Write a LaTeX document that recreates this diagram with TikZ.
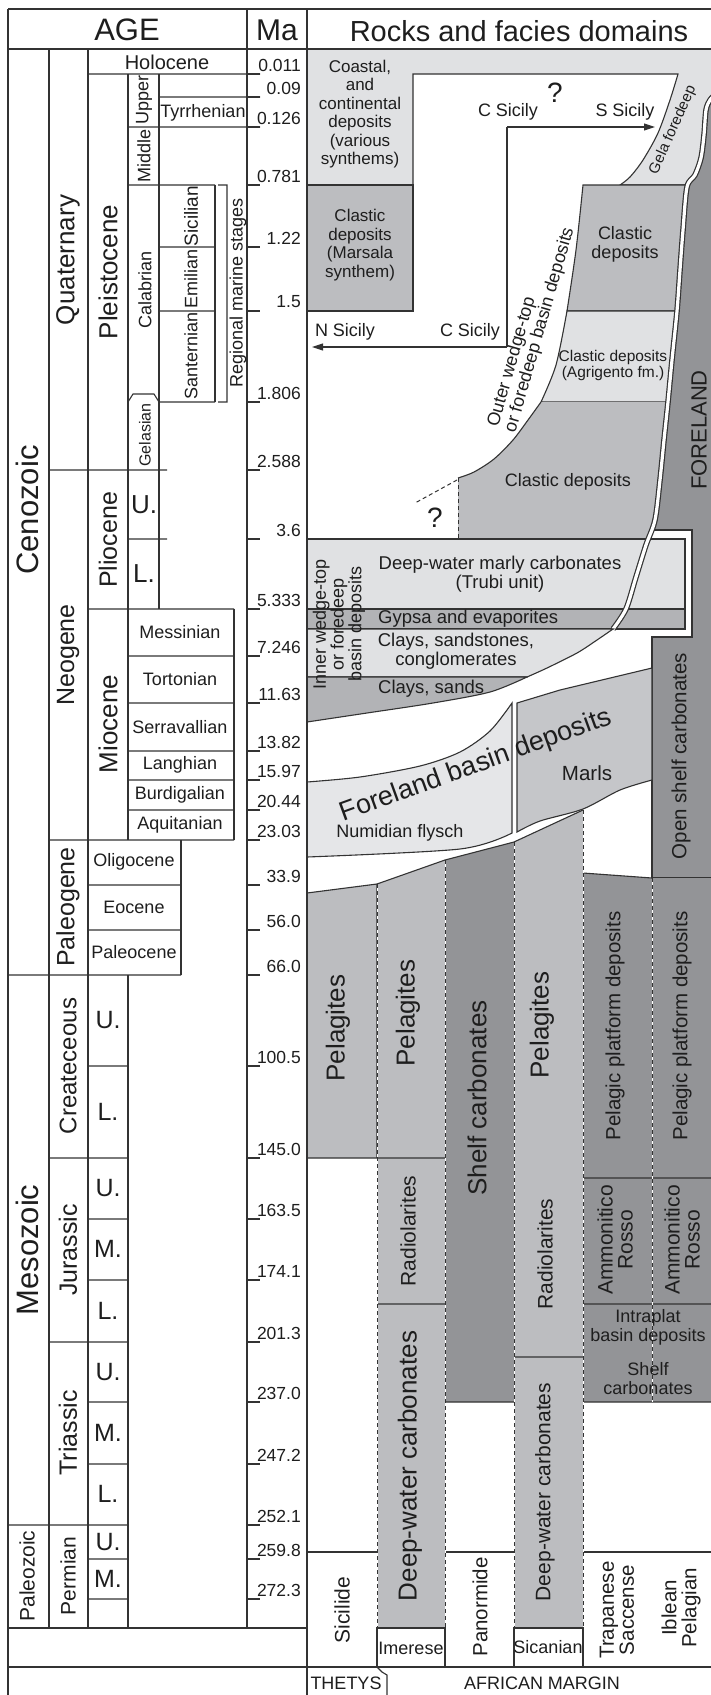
\documentclass[tikz,border=0pt]{standalone}
\usepackage{fontspec}
\setmainfont{Liberation Sans}
\usetikzlibrary{arrows.meta}
\definecolor{lg}{HTML}{E0E1E3}
\definecolor{lg2}{HTML}{E5E6E8}
\definecolor{mg}{HTML}{BCBDC0}
\definecolor{mg2}{HTML}{B2B3B6}
\definecolor{mg3}{HTML}{C5C6C9}
\definecolor{dg}{HTML}{939497}
\definecolor{lc}{HTML}{333333}
\definecolor{tc}{HTML}{1E1E1E}
\newcommand\fz[2]{\fontsize{#1}{#2}\selectfont}
\begin{document}
\begin{tikzpicture}[x=1pt,y=-1pt,
  ln/.style={draw=lc,line width=1.1pt},
  tx/.style={inner sep=0pt,text=tc,align=center},
  dsh/.style={draw=lc,line width=1pt,dash pattern=on 4pt off 3pt},
  wdsh/.style={draw=white,line width=1pt},
  arr/.style={draw=lc,line width=1.1pt,-{Triangle[length=11pt,width=7pt]}},
  rot/.style={rotate=90}]
\useasboundingbox (0,0) rectangle (711,1695);
\fill[white] (0,0) rectangle (711,1695);

% ---------- FORELAND ----------
\fill[dg] (716,80) -- (704,95) -- (699,110) -- (697,135) -- (694,158) -- (688,175) -- (680,187) -- (676,230) -- (673,270) -- (670,311) -- (665,360) -- (661,402) -- (657,440) -- (653,480) -- (650,520) -- (650,530) -- (692,530) -- (692,637) -- (652,637) -- (652,878) -- (716,878) -- cycle;
\draw[ln] (650,530) -- (692,530) -- (692,637) -- (652,637) -- (652,878) -- (716,878);

% ---------- top band + Gela foredeep ----------
\filldraw[ln,fill=lg] (307,49) -- (716,49) -- (716,94) -- (710,100) -- (706,110) -- (704,135) -- (701,158) -- (695,175) -- (686,185) -- (620,185) -- plot[smooth] coordinates {(620,185) (630,177) (643,160) (658,133) (670,100) (678,74)} -- (413,74) -- (413,185) -- (307,185) -- cycle;
\filldraw[ln,fill=mg] (307,185) rectangle (413,311);

% clastic stack
\filldraw[ln,fill=mg] (686,185) -- (683,230) -- (680,270) -- (677,311) -- (567,311) -- plot[smooth] coordinates {(567,311) (576,250) (583,185)} -- cycle;
\filldraw[ln,fill=lg] (677,311) -- (672,360) -- (668,402) -- (541,402) -- plot[smooth] coordinates {(541,402) (556,365) (567,311)} -- cycle;
\fill[mg] (668,402) -- (664,440) -- (660,480) -- (655,520) -- (648,539) -- (458,539) -- (458,478) -- plot[smooth] coordinates {(458,478) (474,472) (494,459) (513,440) (528,420) (541,402)} -- cycle;
\draw[ln] plot[smooth] coordinates {(458,478) (474,472) (494,459) (513,440) (528,420) (541,402)};
\draw[dsh] (458,478) -- (458,539);
\draw[dsh] (457,480) -- (415,503);

% Trubi, Gypsa
\filldraw[ln,fill=lg] (307,539) rectangle (685,609);
\filldraw[ln,fill=mg2] (307,609) rectangle (685,629);

% separator
\draw[lc,line width=5.6pt] plot[smooth] coordinates {(716,94) (710,100) (706,110) (704,135) (701,158) (695,175) (687,187) (683,230) (680,270) (677,311) (672,360) (668,402) (664,440) (660,480) (655,520) (646,545) (636,577) (626,609) (613,629)};
\draw[white,line width=3.2pt] plot[smooth] coordinates {(716,94) (710,100) (706,110) (704,135) (701,158) (695,175) (687,187) (683,230) (680,270) (677,311) (672,360) (668,402) (664,440) (660,480) (655,520) (646,545) (636,577) (626,609) (613,629)};

% inner wedge-top clays
\filldraw[ln,fill=lg] (307,629) -- (613,629) -- plot[smooth] coordinates {(613,629) (597,640) (577,653) (547,668) (527,677)} -- (307,677) -- cycle;
\filldraw[ln,fill=mg2] (307,677) -- (527,677) -- plot[smooth] coordinates {(527,677) (490,692) (433,703) (367,713) (307,722)} -- cycle;

% foreland basin deposits
\filldraw[ln,fill=lg2] plot[smooth] coordinates {(307,782) (360,777) (420,766) (460,752) (490,731) (512,703)} -- (512,833) -- plot[smooth] coordinates {(512,833) (460,849) (307,857)} -- cycle;
\filldraw[ln,fill=mg3] (517,703) -- (560,690) -- (652,668) -- (652,780) -- plot[smooth] coordinates {(652,780) (620,790) (583,809) (540,821) (517,832)} -- cycle;

% Mesozoic columns
\draw[ln] (307,1552) -- (716,1552);
\filldraw[ln,fill=mg] (307,893) -- (377,884) -- (377,1158) -- (307,1158) -- cycle;
\fill[mg] (377,884) -- (445,860) -- (445,1628) -- (377,1628) -- cycle;
\draw[ln] (377,884) -- (445,860) (377,1158) -- (445,1158) (377,1304) -- (445,1304);
\fill[dg] (445,860) -- (514,842) -- (514,1402) -- (445,1402) -- cycle;
\draw[ln] (445,860) -- (514,842) (445,1402) -- (514,1402);
\fill[mg] (514,842) -- (583,810) -- (583,1628) -- (514,1628) -- cycle;
\draw[ln] (514,842) -- (583,810) (514,1357) -- (583,1357);
\fill[dg] (583,873) -- (652,878) -- (716,878) -- (716,1402) -- (583,1402) -- cycle;
\draw[ln] (583,873) -- (652,878) (583,1178) -- (716,1178) (583,1304) -- (716,1304) (583,1402) -- (716,1402);
\foreach \x/\a/\b in {377/884/1628, 445/860/1628, 514/842/1628, 583/810/1628, 652/878/1402}
  {\draw[wdsh] (\x,\a) -- (\x,\b); \draw[dsh] (\x,\a) -- (\x,\b);}
\filldraw[ln,fill=white] (377,1628) rectangle (445,1667);
\filldraw[ln,fill=white] (514,1628) rectangle (583,1667);

% ---------- frame ----------
\draw[ln] (8,9) -- (716,9) (8,49) -- (716,49) (8,9) -- (8,1700) (247,9) -- (247,1628) (307,9) -- (307,1700) (8,1628) -- (307,1628) (8,1667) -- (716,1667);
\draw[ln] (377,1667) -- (382,1672) -- (387,1675) -- (387,1700);

% ---------- AGE grid ----------
\draw[ln] (49,49) -- (49,1628) (88,49) -- (88,1628) (128,74) -- (128,840) (128,975) -- (128,1628)
 (159,74) -- (159,609) (215,185) -- (215,402) (234,609) -- (234,840) (181,840) -- (181,975);
\draw[ln] (88,74) -- (260,74) (159,97) -- (260,97) (128,127) -- (260,127) (128,185) -- (215,185)
 (159,247) -- (215,247) (159,311) -- (215,311) (159,402) -- (215,402)
 (128,402) -- (133,394) -- (154,394) -- (159,402)
 (218,185) -- (227,185) -- (227,402) -- (218,402)
 (49,470) -- (167,470) (128,539) -- (167,539) (88,609) -- (234,609)
 (128,656) -- (234,656) (128,703) -- (234,703) (128,751) -- (234,751) (128,780) -- (234,780) (128,810) -- (234,810)
 (49,840) -- (234,840) (88,885) -- (181,885) (88,930) -- (181,930) (8,975) -- (181,975)
 (88,1066) -- (128,1066) (49,1158) -- (128,1158) (88,1219) -- (128,1219) (88,1280) -- (128,1280)
 (49,1342) -- (128,1342) (88,1402) -- (128,1402) (88,1464) -- (128,1464) (8,1525) -- (128,1525)
 (88,1559) -- (128,1559) (88,1599) -- (128,1599);

% Ma ticks and labels
\foreach \v/\y [count=\i] in {0.011/74,0.09/97,0.126/127,0.781/185,1.22/247,1.5/311,1.806/402,2.588/470,3.6/539,5.333/609,7.246/656,11.63/703,13.82/751,15.97/780,20.44/810,23.03/840,33.9/885,56.0/930,66.0/975,100.5/1066,145.0/1158,163.5/1219,174.1/1280,201.3/1342,237.0/1402,247.2/1464,252.1/1525,259.8/1559,272.3/1599}
  {\draw[ln] (247,\y) -- (260,\y);
   \node[tx,anchor=east,font=\fz{17.5}{20}] (ma\i) at (301,\y-9) {\v};}

% ---------- headers ----------
\node[tx,font=\fz{31}{34}] (age) at (127,30) {AGE};
\node[tx,font=\fz{30}{34}] (ma) at (277,30) {Ma};
\node[tx,font=\fz{29}{34}] (rocks) at (519,31) {Rocks and facies domains};

% ---------- AGE labels ----------
\node[tx,font=\fz{20}{22}] (holo) at (167,62) {Holocene};
\node[tx,rot,font=\fz{26}{28}] (quat) at (68,260) {Quaternary};
\node[tx,rot,font=\fz{26}{28}] (pleist) at (108,272) {Pleistocene};
\node[tx,rot,font=\fz{18}{20}] (upper) at (144,100) {Upper};
\node[tx,rot,font=\fz{18}{20}] (middle) at (144,156) {Middle};
\node[tx,font=\fz{18}{20}] (tyrr) at (203,113) {Tyrrhenian};
\node[tx,rot,font=\fz{18}{20}] (calab) at (145,290) {Calabrian};
\node[tx,rot,font=\fz{19}{20}] (sicil) at (191,216) {Sicilian};
\node[tx,rot,font=\fz{18}{20}] (emil) at (191,279) {Emilian};
\node[tx,rot,font=\fz{18}{20}] (sant) at (191,356) {Santernian};
\node[tx,rot,font=\fz{18}{20}] (regio) at (238,293) {Regional marine stages};
\node[tx,rot,font=\fz{16}{18}] (gelas) at (145,435) {Gelasian};
\node[tx,rot,font=\fz{31}{34}] (ceno) at (27,510) {Cenozoic};
\node[tx,rot,font=\fz{25}{28}] (neog) at (68,655) {Neogene};
\node[tx,rot,font=\fz{25}{28}] (plio) at (108,540) {Pliocene};
\node[tx,font=\fz{26}{28}] (pu) at (144,505) {U.};
\node[tx,font=\fz{26}{28}] (pl) at (144,574) {L.};
\node[tx,rot,font=\fz{26}{28}] (mioc) at (108,724) {Miocene};
\node[tx,font=\fz{18}{20}] (mess) at (180,632) {Messinian};
\node[tx,font=\fz{18}{20}] (tort) at (180,679) {Tortonian};
\node[tx,font=\fz{18}{20}] (serr) at (180,727) {Serravallian};
\node[tx,font=\fz{18}{20}] (lang) at (180,765) {Langhian};
\node[tx,font=\fz{18}{20}] (burd) at (180,795) {Burdigalian};
\node[tx,font=\fz{18}{20}] (aquit) at (180,825) {Aquitanian};
\node[tx,rot,font=\fz{25}{28}] (paleog) at (68,907) {Paleogene};
\node[tx,font=\fz{18}{20}] (olig) at (134,862) {Oligocene};
\node[tx,font=\fz{18}{20}] (eoc) at (134,907) {Eocene};
\node[tx,font=\fz{18}{20}] (paleoc) at (134,952) {Paleocene};
\node[tx,rot,font=\fz{31}{34}] (meso) at (27,1250) {Mesozoic};
\node[tx,rot,font=\fz{24}{28}] (creta) at (68,1066) {Createceous};
\node[tx,font=\fz{25}{28}] (ku) at (108,1020) {U.};
\node[tx,font=\fz{25}{28}] (kl) at (108,1112) {L.};
\node[tx,rot,font=\fz{25}{28}] (jura) at (68,1250) {Jurassic};
\node[tx,font=\fz{25}{28}] (ju) at (108,1188) {U.};
\node[tx,font=\fz{25}{28}] (jm) at (108,1249) {M.};
\node[tx,font=\fz{25}{28}] (jl) at (108,1311) {L.};
\node[tx,rot,font=\fz{25}{28}] (trias) at (68,1433) {Triassic};
\node[tx,font=\fz{25}{28}] (tu) at (108,1372) {U.};
\node[tx,font=\fz{25}{28}] (tm) at (108,1433) {M.};
\node[tx,font=\fz{25}{28}] (tl) at (108,1494) {L.};
\node[tx,rot,font=\fz{21}{24}] (paleoz) at (27,1576) {Paleozoic};
\node[tx,rot,font=\fz{21}{24}] (perm) at (68,1576) {Permian};
\node[tx,font=\fz{25}{28}] (pmu) at (108,1542) {U.};
\node[tx,font=\fz{25}{28}] (pmm) at (108,1579) {M.};

% ---------- Rocks labels ----------
\node[tx,font=\fz{17}{18.5}] (coast) at (360,114) {Coastal,\\and\\continental\\deposits\\(various\\synthems)};
\node[tx,font=\fz{17}{18.5}] (mars) at (360,245) {Clastic\\deposits\\(Marsala\\synthem)};
\node[tx,font=\fz{28}{30}] (q1) at (555,93) {?};
\node[tx,font=\fz{18}{20}] (cs1) at (508,112) {C Sicily};
\node[tx,font=\fz{18}{20}] (ss) at (625,112) {S Sicily};
\node[tx,font=\fz{18}{20}] (ns) at (345,332) {N Sicily};
\node[tx,font=\fz{18}{20}] (cs2) at (470,332) {C Sicily};
\coordinate (a1) at (507,127);
\coordinate (a2) at (655,127);
\coordinate (a3) at (507,347);
\coordinate (a4) at (312,347);
\draw[arr] (a1) -- (a2);
\draw[ln] (a1) -- (a3);
\draw[arr] (a3) -- (a4);
\node[tx,rotate=66,font=\fz{15}{17}] (gela) at (673,130) {Gela foredeep};
\node[tx,rotate=74,font=\fz{18}{20}] (outer1) at (512,362) {Outer wedge-top};
\node[tx,rotate=74,font=\fz{18}{20}] (outer2) at (540,330) {or foredeep basin deposits};
\node[tx,font=\fz{18}{19}] (cl1) at (625,244) {Clastic\\deposits};
\node[tx,font=\fz{15.5}{16}] (agri) at (613,365) {Clastic deposits\\(Agrigento fm.)};
\node[tx,font=\fz{18}{20}] (cl2) at (568,482) {Clastic deposits};
\node[tx,font=\fz{28}{30}] (q2) at (435,518) {?};
\node[tx,rot,font=\fz{22}{24}] (forel) at (699,430) {FORELAND};
\node[tx,rot,font=\fz{20.5}{24}] (opsh) at (681,756) {Open shelf carbonates};
\node[tx,rot,font=\fz{18}{16}] (inner) at (339,624) {Inner wedge-top\\or foredeep\\basin deposits};
\node[tx,font=\fz{18.5}{19}] (trubi) at (500,574) {Deep-water marly carbonates\\(Trubi unit)};
\node[tx,anchor=west,font=\fz{18.5}{20}] (gyps) at (378,619) {Gypsa and evaporites};
\node[tx,font=\fz{18.5}{18.5}] (clsa) at (456,651) {Clays, sandstones,\\conglomerates};
\node[tx,anchor=west,font=\fz{18.5}{20}] (clsd) at (378,689) {Clays, sands};
\node[tx,rotate=20,font=\fz{27}{30}] (fbd) at (476,766) {Foreland basin deposits};
\node[tx,font=\fz{18}{20}] (numid) at (400,833) {Numidian flysch};
\node[tx,font=\fz{20.5}{22}] (marls) at (587,773) {Marls};

\node[tx,rot,font=\fz{26}{28}] (pel1) at (338,1028) {Pelagites};
\node[tx,rot,font=\fz{26}{28}] (pel2) at (408,1013) {Pelagites};
\node[tx,rot,font=\fz{26}{28}] (shelf) at (477,1098) {Shelf carbonates};
\node[tx,rot,font=\fz{26}{28}] (pel3) at (542,1025) {Pelagites};
\node[tx,rot,font=\fz{20.5}{22}] (ppd1) at (615,1026) {Pelagic platform deposits};
\node[tx,rot,font=\fz{20.5}{22}] (ppd2) at (682,1026) {Pelagic platform deposits};
\node[tx,rot,font=\fz{21}{24}] (rad1) at (408,1231) {Radiolarites};
\node[tx,rot,font=\fz{21}{24}] (rad2) at (545,1254) {Radiolarites};
\node[tx,rot,font=\fz{21}{20}] (amm1) at (615,1240) {Ammonitico\\Rosso};
\node[tx,rot,font=\fz{21}{20}] (amm2) at (682,1240) {Ammonitico\\Rosso};
\node[tx,font=\fz{18}{19}] (intra) at (648,1327) {Intraplat\\basin deposits};
\node[tx,font=\fz{18}{19}] (shelf2) at (648,1379) {Shelf\\carbonates};
\node[tx,rot,font=\fz{26}{28}] (dwc1) at (410,1466) {Deep-water carbonates};
\node[tx,rot,font=\fz{21}{24}] (dwc2) at (545,1492) {Deep-water carbonates};
\node[tx,rot,font=\fz{21}{24}] (sicid) at (342,1610) {Sicilide};
\node[tx,font=\fz{18}{20}] (imer) at (411,1648) {Imerese};
\node[tx,rot,font=\fz{20.5}{24}] (panor) at (480,1607) {Panormide};
\node[tx,font=\fz{18}{20}] (sican) at (548,1647) {Sicanian};
\node[tx,rot,font=\fz{20.5}{20}] (trap) at (617,1610) {Trapanese\\Saccense};
\node[tx,rot,font=\fz{20.5}{20}] (ible) at (681,1608) {Iblean\\Pelagian};
\node[tx,font=\fz{18}{20}] (thet) at (346,1683) {THETYS};
\node[tx,font=\fz{18}{20}] (afr) at (542,1683) {AFRICAN MARGIN};
\end{tikzpicture}
\end{document}
